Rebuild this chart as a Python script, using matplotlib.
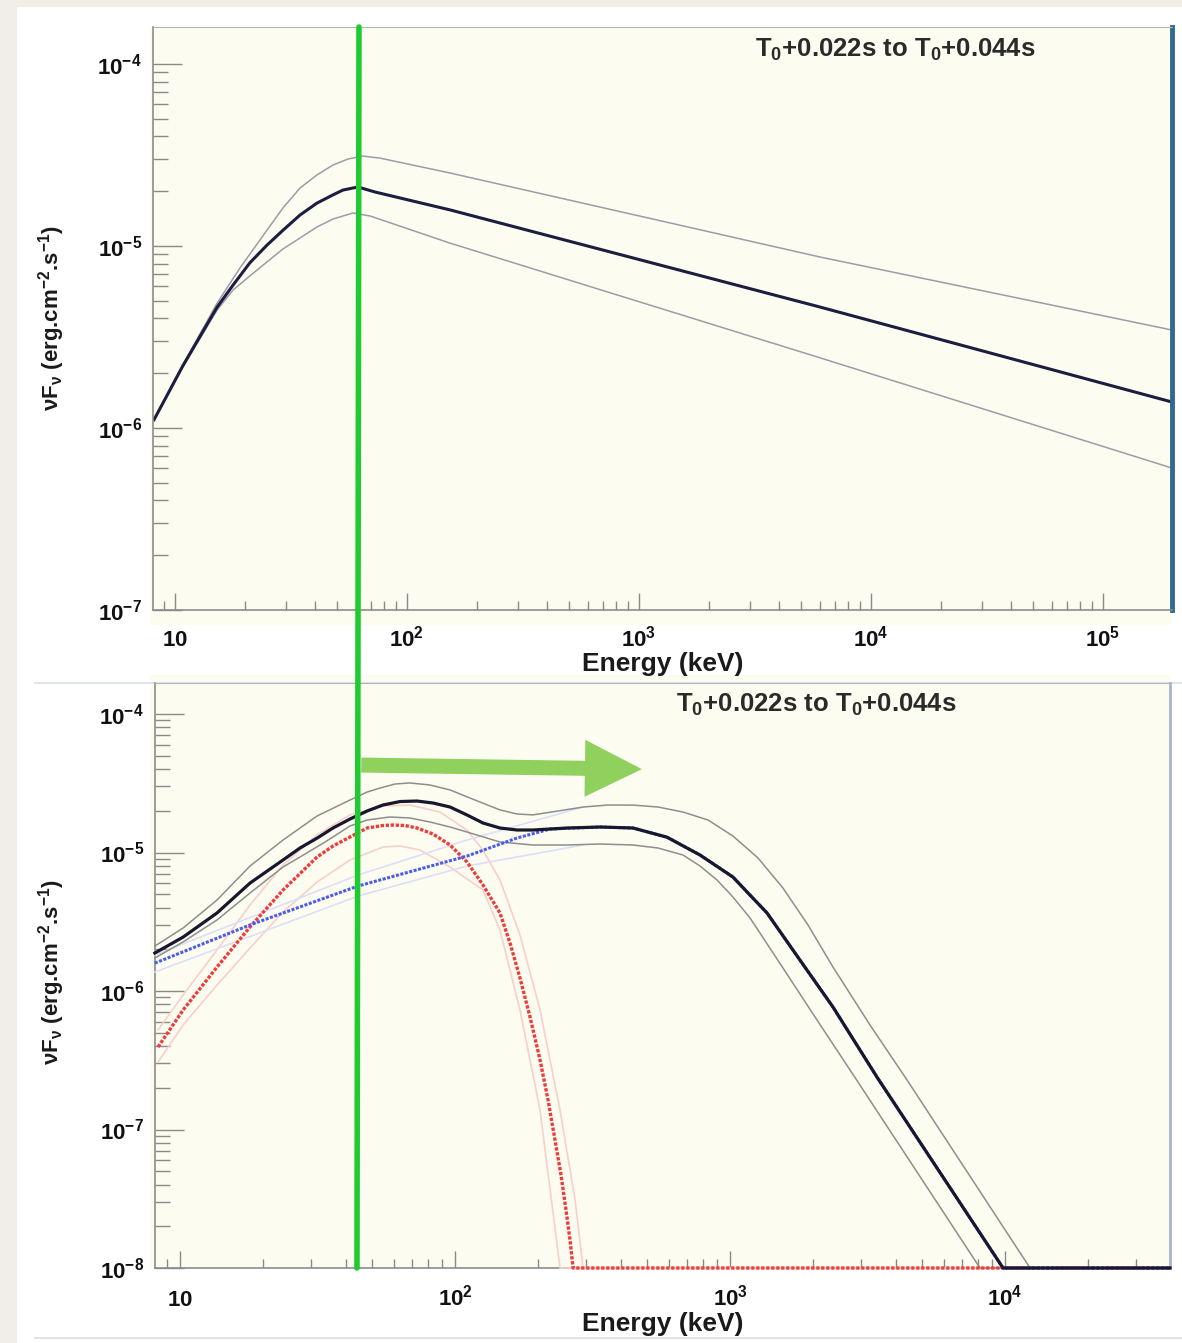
import matplotlib.pyplot as plt
import matplotlib.ticker as mt
from matplotlib.patches import Rectangle, ConnectionPatch
from matplotlib.lines import Line2D

plt.rcParams['font.family'] = ['Liberation Sans', 'DejaVu Sans']
plt.rcParams['font.weight'] = 'bold'
plt.rcParams['mathtext.fontset'] = 'custom'
plt.rcParams['mathtext.rm'] = 'Liberation Sans:bold'
plt.rcParams['mathtext.it'] = 'Liberation Sans:italic:bold'
plt.rcParams['mathtext.bf'] = 'Liberation Sans:bold'
plt.rcParams['mathtext.sf'] = 'Liberation Sans:bold'

# ---- top panel: Band function, best fit and 1-sigma envelope (keV, erg/cm2/s)
top_e = [8.12, 10.8, 15.2, 17.8, 21.0, 24.9, 29.2, 34.6, 40.9, 48.0, 53.0, 61.5, 72.8, 153, 6030, 1.98e5]
top_f = [1.11e-6, 2.19e-6, 4.62e-6, 6.10e-6, 8.07e-6, 1.01e-5, 1.22e-5, 1.48e-5, 1.72e-5, 1.91e-5,
         2.03e-5, 2.11e-5, 1.98e-5, 1.58e-5, 4.62e-6, 1.39e-6]
top_hi_e = [8.12, 10.8, 15.2, 19.06, 24.9, 29.2, 34.6, 40.9, 48.0, 55.7, 64.6, 76.5, 153, 6030, 1.98e5]
top_hi_f = [1.11e-6, 2.22e-6, 4.86e-6, 7.57e-6, 1.22e-5, 1.618e-5, 2.083e-5, 2.455e-5, 2.786e-5, 3.006e-5,
            3.12e-5, 3.04e-5, 2.52e-5, 8.70e-6, 3.455e-6]
top_lo_e = [8.12, 10.8, 15.2, 17.8, 21.0, 24.9, 29.2, 34.6, 40.9, 48.0, 58.5, 69.3, 153, 6030, 1.98e5]
top_lo_f = [1.11e-6, 2.16e-6, 4.45e-6, 5.73e-6, 6.84e-6, 8.17e-6, 9.63e-6, 1.107e-5, 1.272e-5, 1.407e-5,
            1.518e-5, 1.462e-5, 1.038e-5, 2.43e-6, 6.03e-7]

# ---- bottom panel: total model, blackbody (red), non-thermal (blue)
tot_e = [8.1, 10.26, 13.63, 17.97, 23.69, 27.31, 31.5, 36.0, 41.5, 47.9, 54.7, 63.1, 72.7, 83.2, 95.9,
         110.6, 126.4, 145.7, 168.1, 192.1, 255.5, 336.9, 443.9, 590.1, 778, 1025, 1182, 1363, 1797,
         2368, 3423, 9834, 3.98e4]
tot_f = [1.88e-6, 2.45e-6, 3.66e-6, 6.02e-6, 8.83e-6, 1.078e-5, 1.27e-5, 1.503e-5, 1.745e-5, 1.994e-5,
         2.203e-5, 2.334e-5, 2.354e-5, 2.277e-5, 2.131e-5, 1.866e-5, 1.633e-5, 1.503e-5, 1.454e-5,
         1.454e-5, 1.503e-5, 1.528e-5, 1.503e-5, 1.29e-5, 9.59e-6, 6.65e-6, 4.93e-6, 3.66e-6, 1.67e-6,
         7.66e-7, 2.39e-7, 1e-8, 1e-8]
tot_hi_e = [8.1, 10.26, 13.63, 17.97, 23.69, 31.5, 41.5, 47.9, 53.4, 60.5, 68.6, 81.1, 95.9, 118.2, 145.7,
            168.1, 192.1, 236.8, 292.1, 360.1, 443.9, 547.2, 674.7, 831.8, 1025, 1264, 1558, 1921, 2368,
            3229, 4401, 12330, 3.98e4]
tot_hi_f = [2.11e-6, 2.85e-6, 4.54e-6, 7.99e-6, 1.231e-5, 1.835e-5, 2.393e-5, 2.734e-5, 2.92e-5, 3.124e-5,
            3.18e-5, 3.072e-5, 2.83e-5, 2.393e-5, 2.03e-5, 1.897e-5, 1.87e-5, 1.994e-5, 2.13e-5, 2.203e-5,
            2.20e-5, 2.131e-5, 1.96e-5, 1.717e-5, 1.315e-5, 9.13e-6, 5.54e-6, 2.996e-6, 1.49e-6, 5.68e-7,
            2.28e-7, 1e-8, 1e-8]
tot_lo_e = [8.1, 10.26, 13.63, 17.97, 23.69, 27.31, 33.7, 41.5, 47.9, 58.0, 68.6, 81.1, 95.9, 110.6, 145.7,
            192.1, 255.5, 336.9, 443.9, 547.2, 674.7, 778, 896.8, 1025, 1182, 1558, 2072, 2732, 8111, 3.98e4]
tot_lo_f = [1.73e-6, 2.26e-6, 3.26e-6, 5.10e-6, 7.86e-6, 9.28e-6, 1.191e-5, 1.554e-5, 1.717e-5, 1.805e-5,
            1.775e-5, 1.661e-5, 1.528e-5, 1.406e-5, 1.191e-5, 1.133e-5, 1.133e-5, 1.152e-5, 1.133e-5,
            1.078e-5, 9.59e-6, 7.99e-6, 6.33e-6, 4.77e-6, 3.37e-6, 1.466e-6, 6.17e-7, 2.69e-7, 1e-8, 1e-8]

bb_e = [8.32, 10.26, 13.63, 17.97, 23.69, 31.5, 36.0, 41.5, 47.9, 54.7, 59.5, 65.8, 72.7, 83.2, 95.9, 110.6,
        126.4, 145.7, 158.5, 172.3, 187.4, 203.8, 217.9, 231, 242.9, 253.3, 261.9, 268.7, 3.98e4]
bb_f = [3.94e-7, 7.29e-7, 1.49e-6, 2.90e-6, 5.36e-6, 9.28e-6, 1.114e-5, 1.294e-5, 1.503e-5, 1.567e-5,
        1.58e-5, 1.567e-5, 1.503e-5, 1.36e-5, 1.133e-5, 8.54e-6, 5.83e-6, 3.66e-6, 2.22e-6, 1.241e-6,
        6.49e-7, 3.18e-7, 1.633e-7, 8.40e-8, 4.69e-8, 2.62e-8, 1.594e-8, 1e-8, 1e-8]
bb_hi_e = [8.32, 10.26, 13.63, 17.97, 23.69, 31.5, 41.5, 54.7, 68.6, 88.2, 110.6, 126.4, 145.7, 172.3,
           203.8, 240.9, 273.2, 292.1, 3.98e4]
bb_hi_f = [5.23e-7, 9.36e-7, 1.98e-6, 4.18e-6, 8.12e-6, 1.34e-5, 1.87e-5, 2.17e-5, 2.20e-5, 1.96e-5,
           1.45e-5, 1.04e-5, 6.33e-6, 2.54e-6, 7.29e-7, 1.38e-7, 3.10e-8, 1e-8, 1e-8]
bb_lo_e = [8.32, 10.26, 13.63, 17.97, 23.69, 31.5, 41.5, 54.7, 63.1, 74.6, 95.9, 126.4, 145.7, 172.3,
           203.8, 240.9, 3.98e4]
bb_lo_f = [3.07e-7, 5.68e-7, 1.105e-6, 2.04e-6, 3.72e-6, 6.12e-6, 8.83e-6, 1.096e-5, 1.115e-5, 1.043e-5,
           7.86e-6, 5.36e-6, 2.76e-6, 7.29e-7, 1.38e-7, 1e-8, 1e-8]

nt_e = [8.1, 17.97, 44.4, 110.6, 168.1, 221.6, 336.9, 443.9, 590.1, 778, 1025, 1182, 1363, 1797, 2368,
        3423, 9834, 3.98e4]
nt_f = [1.59e-6, 3.0e-6, 5.73e-6, 9.43e-6, 1.273e-5, 1.478e-5, 1.528e-5, 1.503e-5, 1.29e-5, 9.59e-6,
        6.65e-6, 4.93e-6, 3.66e-6, 1.67e-6, 7.66e-7, 2.39e-7, 1e-8, 1e-8]
nt_hi_e = [8.1, 44.4, 110.6, 292.1]
nt_hi_f = [1.82e-6, 6.88e-6, 1.231e-5, 2.13e-5]
nt_lo_e = [8.1, 44.4, 110.6, 292.1]
nt_lo_f = [1.37e-6, 4.85e-6, 7.99e-6, 1.133e-5]

# green marker line (peak energy seen in each panel) and arrow
mark_e_top = 62.1
mark_e_bot = 44.0
arrow_from = (45.6, 4.28e-5)
arrow_to = (478, 4.0e-5)

interval = r'T$_0$+0.022s to T$_0$+0.044s'
ylab = r'νF$_{\mathrm{ν}}$ (erg.cm$^{-2}$.s$^{-1}$)'
xticks_top = [10, 1e2, 1e3, 1e4, 1e5]
xlabels_top = ['$10$', '$10^2$', '$10^3$', '$10^4$', '$10^5$']
xticks_bot = [10, 1e2, 1e3, 1e4]
xlabels_bot = ['$10$', '$10^2$', '$10^3$', '$10^4$']
yticks_top = [1e-7, 1e-6, 1e-5, 1e-4]
ylabels_top = ['$10^{-7}$', '$10^{-6}$', '$10^{-5}$', '$10^{-4}$']
yticks_bot = [1e-8, 1e-7, 1e-6, 1e-5, 1e-4]
ylabels_bot = ['$10^{-8}$', '$10^{-7}$', '$10^{-6}$', '$10^{-5}$', '$10^{-4}$']

W, H = 1182.0, 1343.0
fig = plt.figure(figsize=(W / 100, H / 100), dpi=100)
fig.patch.set_facecolor('#f1eee8')

def frect(x0, y0, x1, y1, color):
	fig.add_artist(Rectangle((x0 / W, 1 - y1 / H), (x1 - x0) / W, (y1 - y0) / H,
		transform=fig.transFigure, facecolor=color, edgecolor='none', zorder=-2))

frect(17, 7, W, H, 'white')
frect(150, 27, 1172, 625, '#fdfcf1')
frect(150, 675, 1170, 1268, '#fdfcf1')
for yy, x0 in ((683, 35), (1338, 35)):
	fig.add_artist(Line2D([x0 / W, 1], [1 - yy / H, 1 - yy / H], transform=fig.transFigure,
		color='#dfe4ea', lw=1.5, zorder=-1))

ax1 = fig.add_axes([153 / W, 1 - 610 / H, 1019 / W, 583 / H])
ax2 = fig.add_axes([155 / W, 1 - 1268 / H, 1015 / W, 585 / H])

# top panel
ax1.plot(top_hi_e, top_hi_f, color='#9c9ca8', lw=1.1)
ax1.plot(top_lo_e, top_lo_f, color='#9c9ca8', lw=1.1)
ax1.plot(top_e, top_f, color='#1d1d40', lw=2.2)
ax1.set_xlim(8.04, 1.984e5)
ax1.set_ylim(1e-7, 1.597e-4)

# bottom panel
kw = dict(clip_on=False, zorder=3)
ax2.plot(bb_hi_e, bb_hi_f, color='#f8cfc9', lw=1.2, **kw)
ax2.plot(bb_lo_e, bb_lo_f, color='#f8cfc9', lw=1.2, **kw)
ax2.plot(nt_hi_e, nt_hi_f, color='#dcdff6', lw=1.2, **kw)
ax2.plot(nt_lo_e, nt_lo_f, color='#dcdff6', lw=1.2, **kw)
ax2.plot(tot_hi_e, tot_hi_f, color='#8e8e8e', lw=1.1, **kw)
ax2.plot(tot_lo_e, tot_lo_f, color='#8e8e8e', lw=1.1, **kw)
ax2.plot(bb_e, bb_f, color='#ee3c3c', lw=2.4, ls=(0, (1, 0.5)), **kw)
ax2.plot(nt_e, nt_f, color='#4a5cf0', lw=2.2, ls=(0, (1, 0.5)), **kw)
ax2.plot(tot_e, tot_f, color='#17172e', lw=2.3, **kw)
ax2.set_xlim(8.11, 3.98e4)
ax2.set_ylim(1e-8, 1.675e-4)

for ax, xt, xl, yt, yl, xpad in ((ax1, xticks_top, xlabels_top, yticks_top, ylabels_top, 26),
		(ax2, xticks_bot, xlabels_bot, yticks_bot, ylabels_bot, 27)):
	ax.set_xscale('log')
	ax.set_yscale('log')
	ax.set_facecolor('#fdfcf1')
	ax.set_xticks(xt)
	ax.set_xticklabels(xl)
	ax.set_yticks(yt)
	ax.set_yticklabels(yl)
	ax.xaxis.set_minor_locator(mt.LogLocator(base=10, subs=range(2, 10), numticks=20))
	ax.yaxis.set_minor_locator(mt.LogLocator(base=10, subs=range(2, 10), numticks=20))
	ax.xaxis.set_minor_formatter(mt.NullFormatter())
	ax.yaxis.set_minor_formatter(mt.NullFormatter())
	ax.tick_params(which='both', direction='in', color='#8a8a8a', labelcolor='#111111',
		labelsize=16, top=False, right=False)
	ax.tick_params(axis='y', which='major', length=21, width=1, pad=8)
	ax.tick_params(axis='y', which='minor', length=11, width=1)
	ax.tick_params(axis='x', which='major', length=12, width=1, pad=xpad)
	ax.tick_params(axis='x', which='minor', length=6.5, width=1)
	plt.setp(ax.get_xticklabels(), va='baseline')
	ax.set_xlabel('Energy (keV)', fontsize=19, fontweight='bold', color='#1a1a1a')
	ax.set_ylabel(ylab, fontsize=16, fontweight='bold', color='#1a1a1a', va='center')
	for s in ('left', 'bottom'):
		ax.spines[s].set_color('#8c8c8c')
		ax.spines[s].set_linewidth(1.2)
	ax.spines['top'].set_color('#b4b4b4')

ax1.spines['right'].set_color('#2f6a8f')
ax1.spines['right'].set_linewidth(3.5)
ax2.spines['right'].set_color('#a4b8c8')
ax2.spines['right'].set_linewidth(2)

ax1.xaxis.set_label_coords(0.5, -42 / 583)
ax2.xaxis.set_label_coords(0.5, -44 / 585)
ax1.yaxis.set_label_coords(-101 / 1019, 0.5)
ax2.yaxis.set_label_coords(-103 / 1015, 0.506)

ax1.text(0.728, 0.9605, interval, transform=ax1.transAxes, ha='center', va='center',
	fontsize=18.5, fontweight='bold', color='#2a2a2a')
ax2.text(0.652, 0.962, interval, transform=ax2.transAxes, ha='center', va='center',
	fontsize=18.5, fontweight='bold', color='#2a2a2a')

# green vertical marker running through both panels
cp = ConnectionPatch(xyA=(mark_e_top, ax1.get_ylim()[1]), coordsA=ax1.transData,
	xyB=(mark_e_bot, ax2.get_ylim()[0]), coordsB=ax2.transData,
	color='#1fcb30', lw=4, zorder=10)
fig.add_artist(cp)

ax2.annotate('', xy=arrow_to, xytext=arrow_from, annotation_clip=False, zorder=11,
	arrowprops=dict(arrowstyle='simple,head_length=41,head_width=41,tail_width=10.8',
		mutation_scale=1, color='#8fd15c', shrinkA=0, shrinkB=0, lw=0))

fig.savefig('out.png', dpi=100, facecolor=fig.get_facecolor())
